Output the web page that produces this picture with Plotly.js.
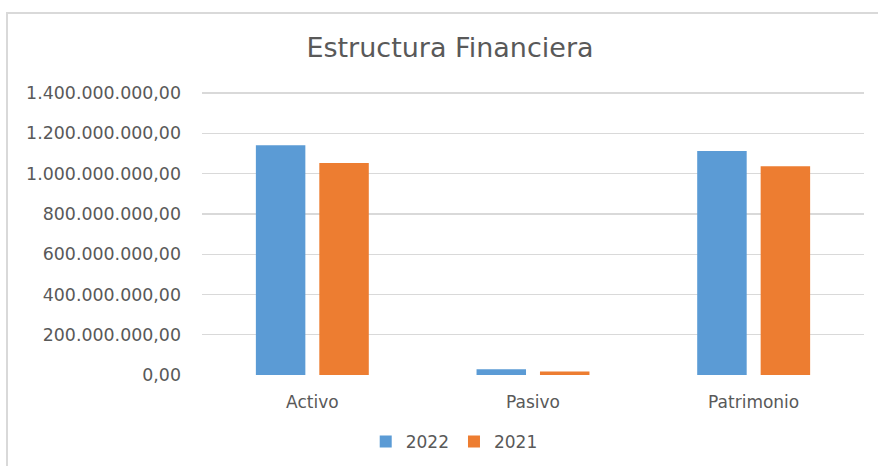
<!DOCTYPE html>
<html>
<head>
<meta charset="utf-8">
<script src="https://cdn.plot.ly/plotly-3.0.1.min.js"></script>
<style>
  html, body { margin: 0; padding: 0; background: #ffffff; }
  #frame { position: absolute; left: 6px; top: 12px; width: 900px; height: 500px; border: 2px solid #d9d9d9; }
  #chart { position: absolute; left: 0; top: 0; width: 878px; height: 466px; }
</style>
</head>
<body>
<div id="frame"></div>
<div id="chart"></div>
<script>
const categories = ["Activo", "Pasivo", "Patrimonio"];
const values2022 = [1141000000, 29000000, 1112000000];
const values2021 = [1053000000, 17000000, 1036000000];
const seriesNames = ["2022", "2021"];
const yTicks = [0, 200000000, 400000000, 600000000, 800000000, 1000000000, 1200000000, 1400000000];

const font = "DejaVu Sans, sans-serif";
const textColor = "#595959";

const traces = [
  { type: "bar", name: seriesNames[0], x: categories, y: values2022,
    marker: { color: "#5B9BD5" }, hoverinfo: "y" },
  { type: "bar", name: seriesNames[1], x: categories, y: values2021,
    marker: { color: "#ED7D31" }, hoverinfo: "y" }
];

const layout = {
  width: 878, height: 466,
  margin: { l: 202, r: 14, t: 89.5, b: 91, pad: 0, autoexpand: false },
  paper_bgcolor: "rgba(0,0,0,0)",
  plot_bgcolor: "rgba(0,0,0,0)",
  separators: ",.",
  barmode: "group",
  bargap: 0.425,
  bargroupgap: 0.22,
  title: { text: "Estructura Financiera", font: { family: font, size: 27, color: textColor },
           x: 0.5125, xanchor: "center", xref: "container", y: 0.897, yanchor: "middle", yref: "container" },
  font: { family: font, size: 17, color: textColor },
  xaxis: { showgrid: false, zeroline: false, showline: false, ticks: "",
           tickfont: { family: font, size: 17, color: textColor }, ticklabelstandoff: 15 },
  yaxis: { range: [0, 1415000000], tickvals: yTicks, tickformat: ",.2f",
           showgrid: true, gridcolor: "#d9d9d9", gridwidth: 1.3, zeroline: false, showline: false, ticks: "",
           tickfont: { family: font, size: 17.4, color: textColor }, ticklabelstandoff: 20 },
  showlegend: true,
  legend: { orientation: "h", x: 0.381, xanchor: "center", y: -0.235, yanchor: "middle",
            font: { family: font, size: 17, color: textColor }, bgcolor: "rgba(0,0,0,0)" }
};

Plotly.newPlot("chart", traces, layout, { displayModeBar: false, staticPlot: true });
</script>
</body>
</html>
